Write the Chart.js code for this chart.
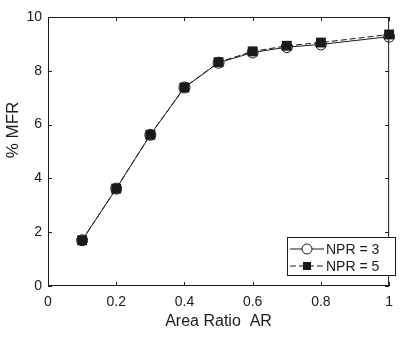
<!DOCTYPE html>
<html>
<head>
<meta charset="utf-8">
<script src="https://cdn.jsdelivr.net/npm/chart.js@4/dist/chart.umd.min.js"></script>
<style>
  html, body { margin: 0; padding: 0; background: #fff; }
  canvas { display: block; }
</style>
</head>
<body>
<canvas id="mfrChart" width="401" height="338"></canvas>
<script>
// values
const areaRatio = [0.1, 0.2, 0.3, 0.4, 0.5, 0.6, 0.7, 0.8, 1.0];
const mfrNpr3 = [1.70, 3.62, 5.62, 7.38, 8.30, 8.68, 8.88, 8.98, 9.27];
const mfrNpr5 = [1.70, 3.62, 5.62, 7.38, 8.32, 8.72, 8.93, 9.05, 9.35];
const seriesLabels = ['NPR = 3', 'NPR = 5'];
const xTitle = 'Area Ratio  AR';
const yTitle = '% MFR';

const ink = '#1a1a1a';
const fontFamily = '"Liberation Sans", Arial, Helvetica, sans-serif';

const toPoints = ys => areaRatio.map((x, i) => ({ x: x, y: ys[i] }));

// frame, inward ticks on all four sides, y title and the inset legend
const framePlugin = {
  id: 'framePlugin',
  afterDraw(chart) {
    const ctx = chart.ctx;
    const a = chart.chartArea;
    const xs = chart.scales.x;
    const ys = chart.scales.y;
    ctx.save();
    ctx.strokeStyle = ink;
    ctx.lineWidth = 1;
    ctx.strokeRect(a.left + 0.5, a.top + 0.5, a.right - a.left - 1, a.bottom - a.top - 1);

    const tick = 4;
    ctx.beginPath();
    xs.ticks.forEach(t => {
      const px = Math.round(xs.getPixelForValue(t.value)) + 0.5;
      ctx.moveTo(px, a.bottom); ctx.lineTo(px, a.bottom - tick);
      ctx.moveTo(px, a.top); ctx.lineTo(px, a.top + tick);
    });
    ys.ticks.forEach(t => {
      const py = Math.round(ys.getPixelForValue(t.value)) + 0.5;
      ctx.moveTo(a.left, py); ctx.lineTo(a.left + tick, py);
      ctx.moveTo(a.right, py); ctx.lineTo(a.right - tick, py);
    });
    ctx.stroke();

    // y axis title
    ctx.fillStyle = ink;
    ctx.font = '17px ' + fontFamily;
    ctx.textAlign = 'center';
    ctx.textBaseline = 'middle';
    ctx.translate(13, 130);
    ctx.rotate(-Math.PI / 2);
    ctx.fillText(yTitle, 0, 0);
    ctx.restore();

    // legend box in the lower right corner
    ctx.save();
    const bx = 287.5, by = 237.5, bw = 108, bh = 38;
    ctx.fillStyle = '#fff';
    ctx.fillRect(bx, by, bw, bh);
    ctx.strokeStyle = ink;
    ctx.lineWidth = 1;
    ctx.strokeRect(bx, by, bw, bh);

    const rows = [249, 266];
    const mx = 307;
    ctx.font = '14px ' + fontFamily;
    ctx.textAlign = 'left';
    ctx.textBaseline = 'middle';
    rows.forEach((ry, i) => {
      const ds = chart.data.datasets[i];
      ctx.strokeStyle = ink;
      ctx.setLineDash(ds.borderDash || []);
      ctx.beginPath();
      ctx.moveTo(290, ry); ctx.lineTo(324, ry);
      ctx.stroke();
      ctx.setLineDash([]);
      if (i === 0) {
        ctx.beginPath();
        ctx.arc(mx, ry, 5, 0, Math.PI * 2);
        ctx.fillStyle = '#fff';
        ctx.fill();
        ctx.stroke();
      } else {
        ctx.fillStyle = ink;
        ctx.fillRect(mx - 4, ry - 4, 8, 8);
      }
      ctx.fillStyle = ink;
      ctx.fillText(seriesLabels[i], 326, ry + 1);
    });
    ctx.restore();
  }
};

new Chart(document.getElementById('mfrChart'), {
  type: 'line',
  data: {
    datasets: [
      {
        label: seriesLabels[0],
        data: toPoints(mfrNpr3),
        order: 1,
        borderColor: ink,
        borderWidth: 1,
        pointStyle: 'circle',
        pointRadius: 5.5,
        pointBackgroundColor: '#fff',
        pointBorderColor: ink,
        pointBorderWidth: 1,
        tension: 0,
        clip: false
      },
      {
        label: seriesLabels[1],
        data: toPoints(mfrNpr5),
        order: 0,
        borderColor: ink,
        borderWidth: 1,
        borderDash: [6, 3],
        pointStyle: 'rect',
        pointRadius: 7,
        pointBackgroundColor: ink,
        pointBorderColor: ink,
        pointBorderWidth: 0,
        tension: 0,
        clip: false
      }
    ]
  },
  options: {
    responsive: false,
    animation: false,
    layout: { padding: { top: 17, right: 5, left: 0, bottom: 0 } },
    plugins: {
      legend: { display: false },
      tooltip: { enabled: false }
    },
    scales: {
      x: {
        type: 'linear',
        min: 0,
        max: 1,
        grid: { display: false, drawTicks: false },
        border: { display: false },
        ticks: {
          stepSize: 0.2,
          padding: 8,
          color: ink,
          font: { family: fontFamily, size: 14 },
          maxRotation: 0,
          callback: v => String(+v.toFixed(1))
        },
        title: {
          display: true,
          text: xTitle,
          color: ink,
          font: { family: fontFamily, size: 16 },
          padding: { top: 0, bottom: 7 }
        },
        afterFit(scale) { scale.height = 52; }
      },
      y: {
        min: 0,
        max: 10,
        grid: { display: false, drawTicks: false },
        border: { display: false },
        ticks: {
          stepSize: 2,
          padding: 6,
          color: ink,
          font: { family: fontFamily, size: 14 }
        },
        afterFit(scale) { scale.width = 48; }
      }
    }
  },
  plugins: [framePlugin]
});
</script>
</body>
</html>
